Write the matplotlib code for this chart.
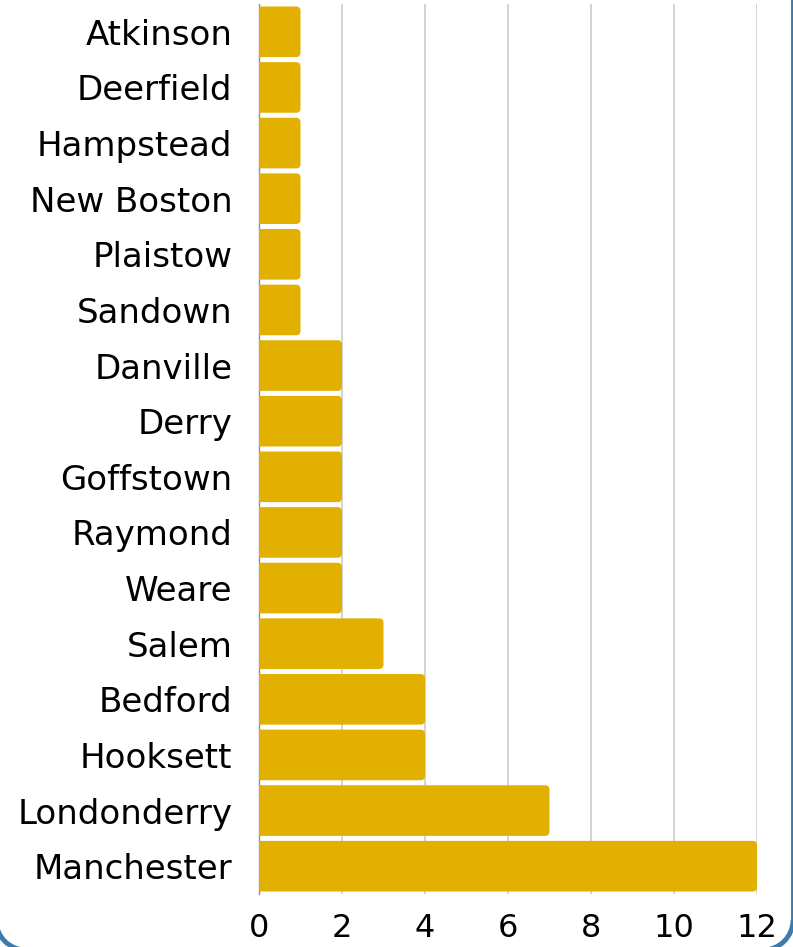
import matplotlib
matplotlib.use("Agg")
import matplotlib.pyplot as plt
from matplotlib.patches import FancyBboxPatch, Arc
from matplotlib.lines import Line2D
from matplotlib.transforms import IdentityTransform

# Towns and counts (top of chart to bottom)
towns = [
    "Atkinson", "Deerfield", "Hampstead", "New Boston", "Plaistow", "Sandown",
    "Danville", "Derry", "Goffstown", "Raymond", "Weare", "Salem",
    "Bedford", "Hooksett", "Londonderry", "Manchester",
]
counts = [1, 1, 1, 1, 1, 1, 2, 2, 2, 2, 2, 3, 4, 4, 7, 12]
xticks = [0, 2, 4, 6, 8, 10, 12]

bar_color = "#E1B000"
grid_color = "#C8C8C8"
frame_color = "#3D7AB0"

plt.rcParams["font.family"] = ["DejaVu Sans"]

W, H = 793, 947
fig = plt.figure(figsize=(W / 100, H / 100), dpi=100)
ax = fig.add_axes([259 / W, 1 - 894 / H, (757 - 259) / W, (894 - 4) / H])

ypos = list(range(len(towns)))
bars = ax.barh(ypos, counts, height=0.91, color=bar_color, zorder=3)

# swap plain bars for ones with rounded corners
px_x = (757 - 259) / 12.0
px_y = (894 - 4) / len(towns)
r = 4.5 / px_x
for b in bars:
    x0, y0 = b.get_x(), b.get_y()
    w, h = b.get_width(), b.get_height()
    rb = FancyBboxPatch(
        (x0 - 0.3, y0), w + 0.3, h,
        boxstyle=f"round,pad=0,rounding_size={r}",
        mutation_aspect=px_x / px_y,
        facecolor=bar_color, edgecolor="none", zorder=3,
    )
    ax.add_patch(rb)
    b.set_visible(False)

ax.set_ylim(len(towns) - 0.5, -0.5)
ax.set_xlim(0, 12)
ax.set_yticks(ypos)
ax.set_yticklabels(towns)
ax.set_xticks(xticks)
ax.set_xticklabels([str(t) for t in xticks])
ax.tick_params(axis="y", length=0, pad=19, labelsize=24.5)
ax.tick_params(axis="x", length=0, pad=14, labelsize=23)

ax.grid(axis="x", color=grid_color, linewidth=1.1, zorder=1)
for s in ["top", "right", "bottom"]:
    ax.spines[s].set_visible(False)
ax.spines["left"].set_color("#8a8f99")
ax.spines["left"].set_linewidth(1.0)
ax.spines["left"].set_zorder(2)

# card border (pixel units, origin bottom-left): right edge + two bottom corners
rad = 30
xl, xr, yb = -4, 793, -3
lw = 3.5
border = [
    Line2D([xr, xr], [yb + rad, H + 5], color=frame_color, lw=lw),
    Arc((xr - rad, yb + rad), 2 * rad, 2 * rad, theta1=270, theta2=360,
        color=frame_color, lw=lw),
    Arc((xl + rad, yb + rad), 2 * rad, 2 * rad, theta1=180, theta2=270,
        color=frame_color, lw=lw),
    Line2D([xl, xl], [yb + rad, H + 5], color=frame_color, lw=lw),
]
for art in border:
    art.set_transform(IdentityTransform())
    art.set_clip_on(False)
    fig.add_artist(art)

fig.savefig("out.png", dpi=100)
